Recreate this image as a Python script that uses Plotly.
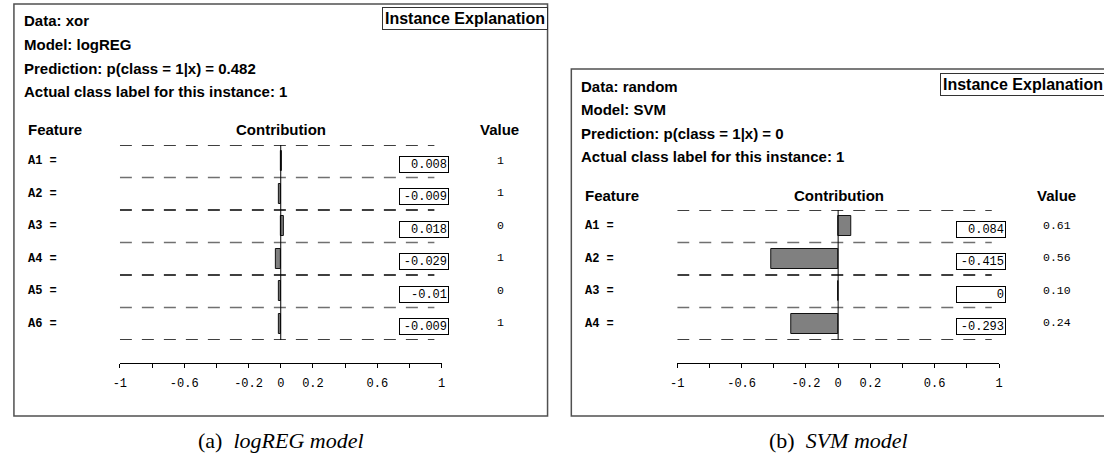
import plotly.graph_objects as go

W, H = 1104, 460

# ---------------- data ----------------
# panel (a)
data_a = "xor"
model_a = "logREG"
pred_a = "0.482"
actual_a = "1"
features_a = ["A1", "A2", "A3", "A4", "A5", "A6"]
contrib_a = [0.008, -0.009, 0.018, -0.029, -0.01, -0.009]
values_a = ["1", "1", "0", "1", "0", "1"]
caption_a = ["(a)", "logREG model"]

# panel (b)
data_b = "random"
model_b = "SVM"
pred_b = "0"
actual_b = "1"
features_b = ["A1", "A2", "A3", "A4"]
contrib_b = [0.084, -0.415, 0, -0.293]
values_b = ["0.61", "0.56", "0.10", "0.24"]
caption_b = ["(b)", "SVM model"]

tick_vals = [-1, -0.8, -0.6, -0.4, -0.2, 0, 0.2, 0.4, 0.6, 0.8, 1]
tick_text = ["-1", "", "-0.6", "", "-0.2", "0", "0.2", "", "0.6", "", "1"]

SANS = "Liberation Sans, Arial, sans-serif"
MONO = "Liberation Mono, Courier New, monospace"
SERIF = "Liberation Serif, Times New Roman, serif"


def px(x):
    return x / W


def py(y):
    return 1 - y / H


panels = [
    dict(data=data_a, model=model_a, pred=pred_a, actual=actual_a,
         feats=features_a, contrib=contrib_a, vals=values_a, cap=caption_a,
         ox=0, oy=0, k=""),
    dict(data=data_b, model=model_b, pred=pred_b, actual=actual_b,
         feats=features_b, contrib=contrib_b, vals=values_b, cap=caption_b,
         ox=563, oy=65, k="2"),
]

fig = go.Figure()
shapes = []
annotations = []
layout_axes = {}

for p in panels:
    ox, oy, k = p["ox"], p["oy"], p["k"]
    n = len(p["feats"])
    xa = "x" + k
    ya = "y" + k

    fig.add_trace(go.Bar(
        x=p["contrib"], y=list(range(n)), orientation="h",
        xaxis=xa, yaxis=ya, width=0.62,
        marker=dict(color="#808080", line=dict(color="#111", width=1)),
        showlegend=False, hoverinfo="skip",
    ))

    layout_axes["xaxis" + k] = dict(
        domain=[px(114 + ox), px(439 + ox)], range=[-1, 1],
        anchor="free", position=py(363),
        showline=True, linecolor="#000", linewidth=1,
        ticks="outside", ticklen=4, tickcolor="#000", tickwidth=1,
        tickvals=tick_vals, ticktext=tick_text,
        tickfont=dict(family=MONO, size=12, color="#000"),
        ticklabelstandoff=5,
        showgrid=False, zeroline=False, fixedrange=True,
    )
    layout_axes["yaxis" + k] = dict(
        domain=[py(340), py(145 + oy)], range=[n - 0.5, -0.5],
        visible=False, anchor=xa, fixedrange=True,
    )

    # dashed separators
    for j in range(n + 1):
        idx = j + (6 - n)
        shapes.append(dict(
            type="line", xref=xa, yref=ya, x0=-1, x1=0.955,
            y0=j - 0.5, y1=j - 0.5, layer="below",
            line=dict(color="#000" if idx % 2 == 0 else "#707070",
                      width=1.3, dash="12px,10px"),
        ))
    # zero line
    shapes.append(dict(
        type="line", xref=xa, yref=ya, x0=0, x1=0, y0=-0.5, y1=n - 0.5,
        layer="above", line=dict(color="#000", width=1),
    ))
    # panel border
    shapes.append(dict(
        type="rect", xref="paper", yref="paper",
        x0=px(7 + ox), x1=px(546 + ox), y0=py(416), y1=py(4 + oy),
        line=dict(color="#505050", width=1.5), layer="below",
    ))

    # title box
    annotations.append(dict(
        xref="paper", yref="paper", x=px(379 + ox), y=py(19 + oy),
        xanchor="left", yanchor="middle", showarrow=False,
        text="<b>Instance Explanation</b>",
        font=dict(family=SANS, size=16, color="#000"),
        bordercolor="#333", borderwidth=1, borderpad=2, bgcolor="#fff",
    ))
    # info lines
    info = [f"Data: {p['data']}", f"Model: {p['model']}",
            f"Prediction: p(class = 1|x) = {p['pred']}",
            f"Actual class label for this instance: {p['actual']}"]
    for t, yy in zip(info, [21, 44.5, 68, 91.5]):
        annotations.append(dict(
            xref="paper", yref="paper", x=px(15 + ox), y=py(yy + oy),
            xanchor="left", yanchor="middle", showarrow=False,
            text=f"<b>{t}</b>", font=dict(family=SANS, size=15, color="#000"),
        ))
    # headers
    for t, xx, anc in [("Feature", 19, "left"), ("Contribution", 277, "center"),
                       ("Value", 497, "center")]:
        annotations.append(dict(
            xref="paper", yref="paper", x=px(xx + ox), y=py(130 + oy),
            xanchor=anc, yanchor="middle", showarrow=False,
            text=f"<b>{t}</b>", font=dict(family=SANS, size=15, color="#000"),
        ))
    # rows
    for j, (f, c, v) in enumerate(zip(p["feats"], p["contrib"], p["vals"])):
        annotations.append(dict(
            xref="paper", yref=ya, x=px(19 + ox), y=j,
            xanchor="left", yanchor="middle", showarrow=False,
            text=f"<b>{f} =</b>", font=dict(family=MONO, size=12, color="#000"),
        ))
        annotations.append(dict(
            xref="paper", yref=ya, x=px(446 + ox), y=j, yshift=-3,
            xanchor="right", yanchor="middle", showarrow=False,
            text=f"{c:g}", font=dict(family=MONO, size=12, color="#000"),
            align="right", width=46, height=13,
            bordercolor="#000", borderwidth=1, borderpad=1, bgcolor="#fff",
        ))
        annotations.append(dict(
            xref="paper", yref=ya, x=px(498 + ox), y=j, yshift=1,
            xanchor="center", yanchor="middle", showarrow=False,
            text=v, font=dict(family=MONO, size=11.5, color="#000"),
        ))
    # caption
    annotations.append(dict(
        xref="paper", yref="paper", x=px(277 + ox), y=py(440),
        xanchor="center", yanchor="middle", showarrow=False,
        text=f"{p['cap'][0]}  <i>{p['cap'][1]}</i>",
        font=dict(family=SERIF, size=22, color="#000"),
    ))

fig.update_layout(
    width=W, height=H, margin=dict(l=0, r=0, t=0, b=0),
    paper_bgcolor="#fff", plot_bgcolor="rgba(0,0,0,0)",
    shapes=shapes, annotations=annotations, bargap=0,
    **layout_axes,
)

fig.write_html(
    "out.html",
    config={"displayModeBar": False},
    post_script="document.body.style.margin='0';"
                "document.documentElement.style.overflow='hidden';",
)
